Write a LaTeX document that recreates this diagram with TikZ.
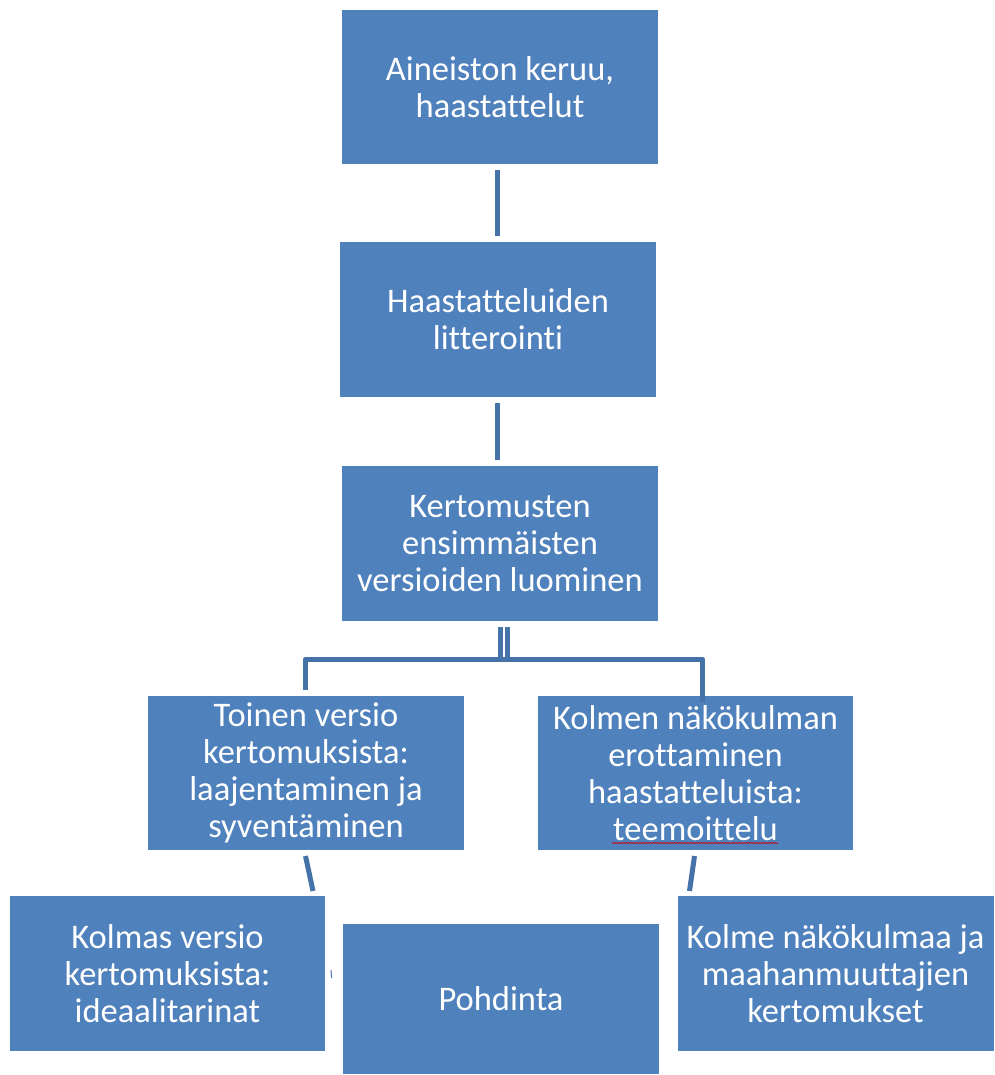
\documentclass[tikz,border=0pt]{standalone}
\usepackage{fontspec}
\setmainfont[Ligatures=NoCommon]{Carlito}
\usetikzlibrary{decorations.pathmorphing}
\definecolor{boxblue}{HTML}{4F81BD}
\definecolor{linkblue}{HTML}{4672AA}
\begin{document}
\begin{tikzpicture}[x=1pt,y=-1pt,
  box/.style={fill=boxblue,draw=none,inner sep=0pt,text=white,align=center,
    font=\fontsize{34.5}{37}\selectfont},
  link/.style={draw=linkblue,line width=5pt,line join=round}]
\useasboundingbox (0,0) rectangle (994,1075);
% boxes
\node[box,minimum width=316pt,minimum height=154pt] (b1) at (500,87) {Aineiston keruu,\\haastattelut};
\node[box,minimum width=316pt,minimum height=155pt] (b2) at (498,319.5) {Haastatteluiden\\litterointi};
\node[box,minimum width=316pt,minimum height=155pt] (b3) at (500,543.5) {Kertomusten\\ensimmäisten\\versioiden luominen};
\node[box,minimum width=316pt,minimum height=154pt] (b4) at (306,773) {Toinen versio\\kertomuksista:\\laajentaminen ja\\syventäminen};
\node[box,minimum width=315pt,minimum height=154pt] (b5) at (695.5,773) {Kolmen näkökulman\\erottaminen\\haastatteluista:\\teemoittelu};
\node[box,minimum width=315pt,minimum height=155pt] (b6) at (167.5,973.5) {Kolmas versio\\kertomuksista:\\ideaalitarinat};
\node[box,minimum width=316pt,minimum height=150pt] (b7) at (501,999) {Pohdinta};
\node[box,minimum width=316pt,minimum height=155pt] (b8) at (835.5,973.5) {Kolme näkökulmaa ja\\maahanmuuttajien\\kertomukset};
% spell-check underline
\draw[red!80!black,line width=0.7pt,decorate,decoration={snake,amplitude=0.6pt,segment length=3pt}]
  (612,843) coordinate (sq1) -- (778,843) coordinate (sq2);
% connectors
\draw[link] ([yshift=-6pt]b1.south -| 497,0) coordinate (c1a) -- ([yshift=6pt]b2.north -| 497,0) coordinate (c1b);
\draw[link] ([yshift=-6pt]b2.south -| 497,0) coordinate (c2a) -- ([yshift=6pt]b3.north -| 497,0) coordinate (c2b);
\coordinate (ja) at (500.5,627);
\coordinate (jb) at (507.5,627);
\coordinate (ha) at (305.5,659);
\coordinate (hb) at (702.5,659);
\draw[link] (ja) -- (ja |- ha);
\draw[link] (jb) -- (jb |- ha);
\draw[link] (ha |- b4.north) ++(0,-6) coordinate (l4) -- (ha) -- (hb) -- ([yshift=-6pt]hb |- b5.north) coordinate (l5);
\draw[link] (305.5,856) coordinate (s1) -- (313,891) coordinate (s2);
\draw[link] (694.5,856) coordinate (s3) -- (689.5,891) coordinate (s4);
\draw[draw=linkblue,line width=1pt] (331,970) coordinate (m1) -- (331.6,978) coordinate (m2);
\end{tikzpicture}
\end{document}
